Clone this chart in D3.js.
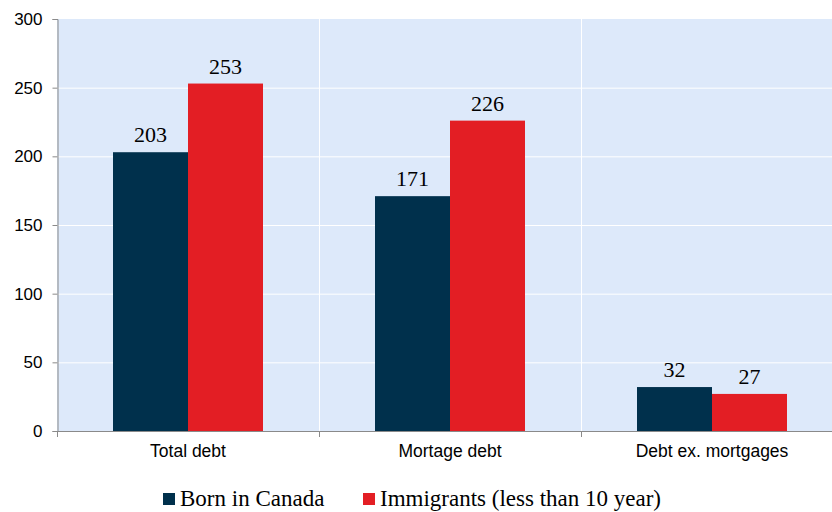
<!DOCTYPE html>
<html>
<head>
<meta charset="utf-8">
<script src="https://cdn.jsdelivr.net/npm/d3@7/dist/d3.min.js"></script>
<style>
  html, body { margin: 0; padding: 0; background: #ffffff; }
  svg { display: block; }
</style>
</head>
<body>
<svg id="chart" width="832" height="512"></svg>
<script>
// Household debt, thousands of dollars
const categories = ["Total debt", "Mortage debt", "Debt ex. mortgages"];
const seriesNames = ["Born in Canada", "Immigrants (less than 10 year)"];
const bornInCanada = [203, 171, 32];
const immigrants = [253, 226, 27];
const yTicks = [0, 50, 100, 150, 200, 250, 300];
const colors = ["#00304c", "#e31e24"];

const svg = d3.select("#chart");
const margin = { left: 57, top: 19, bottom: 431 };
const plotRight = 57 + 3 * 262;

const x = d3.scaleBand().domain(categories).range([margin.left, plotRight]).paddingInner(0).paddingOuter(0);
const y = d3.scaleLinear().domain([0, 300]).range([margin.bottom, margin.top]);

const inner = d3.scaleBand().domain(seriesNames).range([56, x.bandwidth() - 56]).padding(0);

// plot background
svg.append("rect")
  .attr("x", margin.left).attr("y", margin.top)
  .attr("width", plotRight - margin.left).attr("height", margin.bottom - margin.top)
  .attr("fill", "#dde9fa");

// horizontal gridlines
svg.append("g").selectAll("line").data(yTicks.filter(d => d > 0 && d < 300)).join("line")
  .attr("x1", margin.left).attr("x2", plotRight)
  .attr("y1", d => y(d) + 0.5).attr("y2", d => y(d) + 0.5)
  .attr("stroke", "#ffffff").attr("stroke-width", 1);

// vertical separators between categories
svg.append("g").selectAll("line").data(categories.slice(1)).join("line")
  .attr("x1", d => Math.round(x(d)) + 0.5).attr("x2", d => Math.round(x(d)) + 0.5)
  .attr("y1", margin.top).attr("y2", margin.bottom)
  .attr("stroke", "#ffffff").attr("stroke-width", 1);

// bars
const seriesData = [bornInCanada, immigrants];
const groups = svg.append("g").selectAll("g").data(categories).join("g")
  .attr("transform", d => `translate(${x(d)},0)`);

groups.each(function(cat, ci) {
  const g = d3.select(this);
  seriesNames.forEach((s, si) => {
    const v = seriesData[si][ci];
    g.append("rect")
      .attr("x", inner(s)).attr("width", inner.bandwidth())
      .attr("y", y(v)).attr("height", y(0) - y(v))
      .attr("fill", colors[si]);
    g.append("text")
      .attr("x", inner(s) + inner.bandwidth() / 2)
      .attr("y", y(v) - 10)
      .attr("text-anchor", "middle")
      .attr("font-family", "'Liberation Serif', 'Times New Roman', serif")
      .attr("font-size", 22)
      .attr("fill", "#000")
      .text(v);
  });
});

// y axis
const yAxis = d3.axisLeft(y).tickValues(yTicks).tickSize(5).tickPadding(10);
const yG = svg.append("g").attr("transform", `translate(${margin.left + 0.5},0)`).call(yAxis);
yG.select(".domain").attr("stroke", "#8a8a8a");
yG.selectAll(".tick line").attr("stroke", "#8a8a8a");
yG.selectAll(".tick text")
  .attr("font-family", "'Liberation Sans', Arial, sans-serif")
  .attr("font-size", 17).attr("fill", "#000");

// x axis
const xAxis = d3.axisBottom(x).tickSize(0).tickPadding(13);
const xG = svg.append("g").attr("transform", `translate(0,${margin.bottom + 0.5})`).call(xAxis);
xG.select(".domain").attr("stroke", "#8a8a8a").attr("d", `M${margin.left},0H${plotRight}`);
xG.selectAll(".tick text")
  .attr("font-family", "'Liberation Sans', Arial, sans-serif")
  .attr("font-size", 17.5).attr("fill", "#000");
// category boundary ticks
svg.append("g").selectAll("line").data(categories).join("line")
  .attr("x1", d => Math.round(x(d)) + 0.5).attr("x2", d => Math.round(x(d)) + 0.5)
  .attr("y1", margin.bottom).attr("y2", margin.bottom + 6)
  .attr("stroke", "#8a8a8a");

// legend
const legendX = [163, 363];
const legend = svg.append("g").selectAll("g").data(seriesNames).join("g")
  .attr("transform", (d, i) => `translate(${legendX[i]},0)`);
legend.append("rect").attr("x", 0).attr("y", 493).attr("width", 12).attr("height", 12)
  .attr("fill", (d, i) => colors[i]);
legend.append("text").attr("x", 17).attr("y", 506)
  .attr("font-family", "'Liberation Serif', 'Times New Roman', serif")
  .attr("font-size", 23).attr("fill", "#000")
  .text(d => d);
</script>
</body>
</html>
